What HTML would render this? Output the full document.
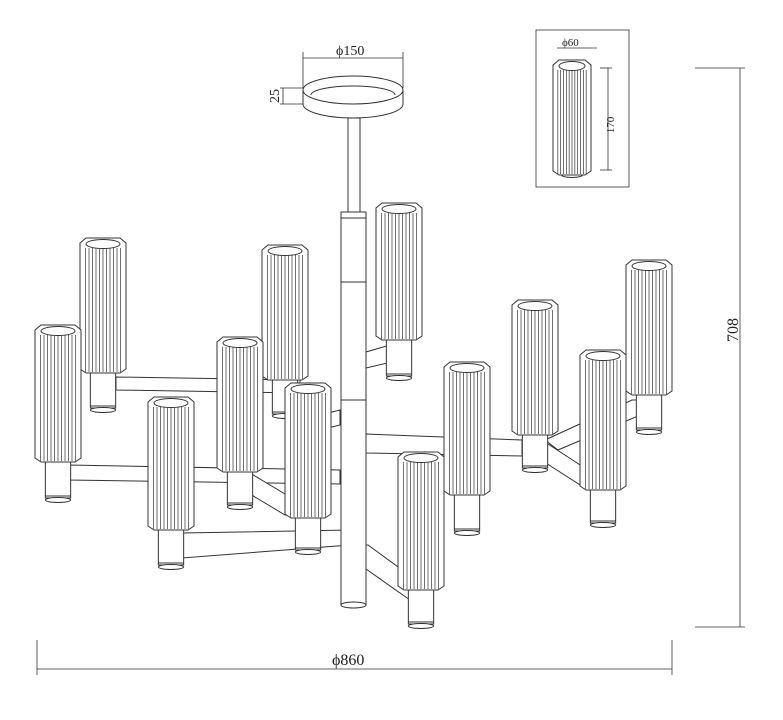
<!DOCTYPE html>
<html><head><meta charset="utf-8"><style>
html,body{margin:0;padding:0;background:#fff;}
svg{display:block;}
text{font-family:"Liberation Serif",serif;fill:#222;stroke:none;font-weight:normal;}
</style></head><body>
<svg id="s" width="783" height="720" viewBox="0 0 783 720" xmlns="http://www.w3.org/2000/svg" fill="none" stroke="#333" stroke-width="1">
<g id="arms" fill="#fff">
<polygon points="116,377 300,380 300,393 116,390"/>
<polygon points="68,465 340,470 340,484 68,480"/>
<polygon points="230,470 245,470 300,503 300,515 285,515 230,482"/>
<polygon points="182,533 350,530 350,545 182,558"/>
<polygon points="366,352 390,345 400,345 400,360 366,368"/>
<polygon points="366,434 522,440 522,456 366,453"/>
<polygon points="535,444 548,444 600,478 600,490 588,490 535,456"/>
<polygon points="545,440 632,400 645,400 645,413 558,450"/>
<polygon points="356,545 368,545 420,583 420,600 410,600 356,562"/>
<polygon points="300,420 340,410 340,425 300,435"/>
</g>
<g id="column" fill="#fff">
<rect x="348" y="118" width="12" height="96"/>
<rect x="341" y="212" width="25" height="393"/>
<line x1="341" y1="282" x2="366" y2="282"/>
<line x1="341" y1="400" x2="366" y2="400"/>
<line x1="341" y1="218" x2="366" y2="218"/>
<ellipse cx="353.5" cy="605" rx="12.5" ry="3"/>
<path d="M303,90 L303,104 A50,14 0 0 0 403,104 L403,90" />
<ellipse cx="353" cy="90" rx="50" ry="14"/>
<path d="M311,95 A42,9 0 0 1 395,95"/>
</g>
<g id="lamps"></g>
<g stroke="#333" stroke-width="0.8">
<line x1="303" y1="58" x2="403" y2="58"/>
<line x1="303" y1="52" x2="303" y2="88"/>
<line x1="403" y1="52" x2="403" y2="88"/>
<line x1="280" y1="88" x2="303" y2="88"/>
<line x1="280" y1="104" x2="303" y2="104"/>
<line x1="283" y1="88" x2="283" y2="104"/>
<rect x="536" y="30" width="93" height="157"/>
<line x1="557" y1="48" x2="597" y2="48"/>
<line x1="600" y1="68" x2="612" y2="68"/>
<line x1="600" y1="170" x2="612" y2="170"/>
<line x1="608" y1="68" x2="608" y2="170"/>
<line x1="695" y1="68" x2="745" y2="68"/>
<line x1="695" y1="627" x2="745" y2="627"/>
<line x1="740" y1="68" x2="740" y2="627"/>
<line x1="37" y1="640" x2="37" y2="675"/>
<line x1="672" y1="640" x2="672" y2="675"/>
<line x1="37" y1="669" x2="672" y2="669"/>
</g>
<text x="336" y="55" font-size="14">ϕ150</text>
<text x="279" y="96" font-size="14" transform="rotate(-90 279 96)" text-anchor="middle">25</text>
<text x="562" y="46" font-size="11">ϕ60</text>
<text x="614" y="125" font-size="11" transform="rotate(-90 614 125)" text-anchor="middle">170</text>
<text x="738" y="330" font-size="16" transform="rotate(-90 738 330)" text-anchor="middle">708</text>
<text x="332" y="665" font-size="16">ϕ860</text>
<g id="inset"></g>
</svg>
<script>
var NS="http://www.w3.org/2000/svg";
function el(p,t,a){var e=document.createElementNS(NS,t);for(var k in a)e.setAttribute(k,a[k]);p.appendChild(e);return e;}
function lamp(g,x,top,bot,sb,w){
  w=w||46;var cx=x+w/2;var sw=w*0.55;
  el(g,'rect',{x:cx-sw/2,y:bot-2,width:sw,height:sb-bot,fill:'#fff'});
  el(g,'ellipse',{cx:cx,cy:sb,rx:sw/2,ry:2.5,fill:'#fff'});
  el(g,'line',{x1:cx-sw/2,y1:sb-4,x2:cx+sw/2,y2:sb-4});
  var d='M'+x+','+(top+5)+' L'+(x+6)+','+top+' L'+(x+w-6)+','+top+' L'+(x+w)+','+(top+5)+' L'+(x+w)+','+(bot-4)+' L'+(x+w-6)+','+bot+' L'+(x+6)+','+bot+' L'+x+','+(bot-4)+' Z';
  el(g,'path',{d:d,fill:'#fff'});
  el(g,'ellipse',{cx:cx,cy:top+6,rx:w/2-6,ry:4.5});
  for(var i=1;i<12;i++){var xx=x+2+i*(w-4)/12;el(g,'line',{x1:xx,y1:top+10,x2:xx,y2:bot-1,'stroke-width':0.7});}
}
var L=[[376,203,340,378],[80,238,373,410],[262,245,380,416],[626,260,395,432],[512,300,435,470],[35,325,462,500],[217,337,472,507],[580,350,490,525],[444,362,495,533],[285,383,518,552],[148,397,530,567],[398,452,590,626]];
var g=document.getElementById('lamps');
L.forEach(function(a){lamp(g,a[0],a[1],a[2],a[3]);});
lamp(document.getElementById('inset'),553,60,175,175,38);
</script>
</body></html>
